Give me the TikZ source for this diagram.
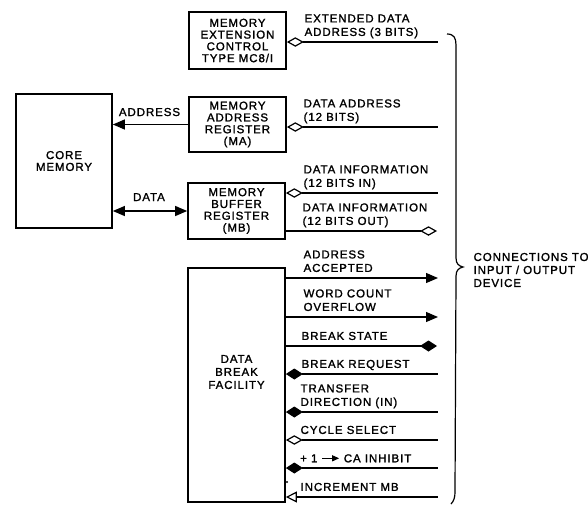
\documentclass[tikz,border=0pt]{standalone}
\usepackage{fontspec}
\setmainfont{Liberation Sans}[LetterSpace=8, FakeBold=1.5]
\usetikzlibrary{arrows.meta}

\tikzset{
	opendia/.tip={Diamond[open,length=17pt,width=9.5pt]},
	filldia/.tip={Diamond[length=17pt,width=11pt]},
	filltri/.tip={Triangle[length=12pt,width=10pt]},
	opentri/.tip={Triangle[open,length=11pt,width=11pt]}
}

\begin{document}
\begin{tikzpicture}[x=1pt, y=-1pt, line width=1.2pt,
		font=\fontsize{11.5}{13.5}\selectfont]
	\useasboundingbox (0,0) rectangle (588,504);
	\begin{scope}[every node/.style = {draw, line width=1.7pt, inner sep=0pt, align=center,
			minimum width=97pt, font=\fontsize{11.5}{11.8}\selectfont}]
		\node[minimum height=57pt] (EXT) at (237.5,40.5) {MEMORY\\EXTENSION\\CONTROL\\TYPE MC8/I};
		\node[minimum height=55pt] (MA) at (237.5,124.5) {MEMORY\\ADDRESS\\REGISTER\\(MA)};
		\node[minimum height=56pt] (MB) at (236.5,211) {MEMORY\\BUFFER\\REGISTER\\(MB)};
		\node[minimum width=96pt, minimum height=134pt] (CORE) at (64,161) {CORE\\MEMORY};
		\node[minimum height=234pt] (DBF) at (236.5,385) {};
	\end{scope}
	\node[align=center, font=\fontsize{11.5}{13}\selectfont] (DBFtext) at (236.5,372) {DATA\\BREAK\\FACILITY};

	\coordinate (EDA) at (438,42);
	\coordinate (DA) at (438,127);
	\coordinate (DIN) at (438,193);
	\coordinate (DOUT) at (437,231);
	\coordinate (AA) at (438,278);
	\coordinate (WCO) at (438,317);
	\coordinate (BS) at (437,346);
	\coordinate (BR) at (438,374);
	\coordinate (TD) at (438,412);
	\coordinate (CS) at (438,440);
	\coordinate (CAI) at (438,468);
	\coordinate (IMB) at (438,497);

	\begin{scope}[every edge/.style={draw, line width=1.2pt}]
		\path [-filltri] (MA.west) edge (CORE.east |- MA.west);
		\path [filltri-filltri] (CORE.east |- MB.west) edge (MB.west);
		\path [opendia-] (EXT.east |- EDA) edge (EDA);
		\path [opendia-] (MA.east |- DA) edge (DA);
		\path [opendia-] (MB.east |- DIN) edge (DIN);
		\path [-opendia] (MB.east |- DOUT) edge (DOUT);
		\path [-filltri] (DBF.east |- AA) edge (AA);
		\path [-filltri] (DBF.east |- WCO) edge (WCO);
		\path [-filldia] (DBF.east |- BS) edge (BS);
		\path [filldia-] (DBF.east |- BR) edge (BR);
		\path [filldia-] (DBF.east |- TD) edge (TD);
		\path [opendia-] (DBF.east |- CS) edge (CS);
		\path [filldia-] (DBF.east |- CAI) edge (CAI);
		\path [opentri-] (DBF.east |- IMB) edge (IMB);
	\end{scope}

	\node[anchor=base] (lADDR) at (149.5,116) {ADDRESS};
	\node[anchor=base] (lDATA) at (149,201) {DATA};
	\begin{scope}[every node/.style={anchor=south west, align=left, inner sep=0pt, text depth=0pt}]
		\node (lEDA) at (304,36.5) {EXTENDED DATA\\ADDRESS (3 BITS)};
		\node (lDA) at (303,121.5) {DATA ADDRESS\\(12 BITS)};
		\node (lDIN) at (303,187.5) {DATA INFORMATION\\(12 BITS IN)};
		\node (lDOUT) at (302,225.5) {DATA INFORMATION\\(12 BITS OUT)};
		\node (lAA) at (303,272.5) {ADDRESS\\ACCEPTED};
		\node (lWCO) at (303,311.5) {WORD COUNT\\OVERFLOW};
		\node (lBS) at (301,340.5) {BREAK STATE};
		\node (lBR) at (301,368.5) {BREAK REQUEST};
		\node (lTD) at (300,406.5) {TRANSFER\\DIRECTION (IN)};
		\node (lCS) at (300,434.5) {CYCLE SELECT};
		\node (lCAI) at (300,462.5) {+ 1 \tikz[baseline=-4pt]\draw[line width=1.2pt,-{Triangle[length=7pt,width=6pt]}] (0,0) -- (17pt,0); CA INHIBIT};
		\node (lIMB) at (300,491.5) {INCREMENT MB};
	\end{scope}
	\fill (287,482) circle (1.2);

	\draw (447,34) .. controls (454,34) and (456,38) .. (456,45) -- (456,258)
		.. controls (456,264) and (459,266) .. (463,267)
		.. controls (459,268) and (456,270) .. (456,276) -- (455,492)
		.. controls (455,497) and (454,501) .. (451,504);
	\node[anchor=west, align=left, inner sep=0pt, font=\fontsize{11.5}{13}\selectfont] (IO) at (473,270) {CONNECTIONS TO\\INPUT / OUTPUT\\DEVICE};
\end{tikzpicture}
\end{document}
